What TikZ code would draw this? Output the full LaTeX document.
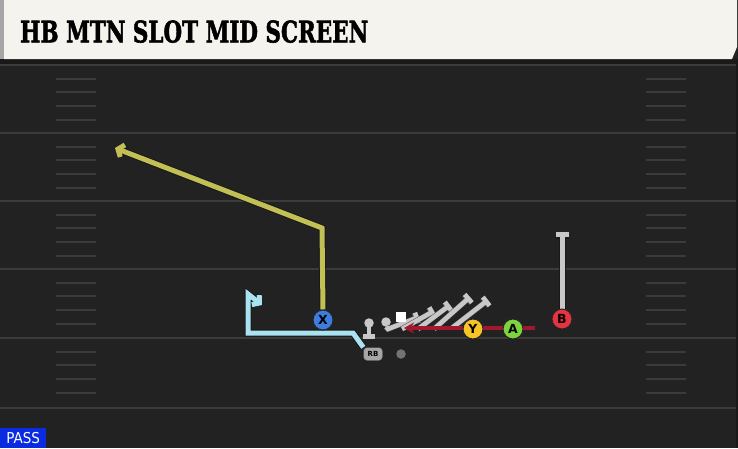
\documentclass[tikz,border=0pt]{standalone}
\usepackage{fontspec}
\setsansfont{DejaVu Sans}
\newfontfamily\titlefont{DejaVu Serif}[BoldFeatures={FakeBold=2}]
\newfontfamily\passfont{DejaVu Sans Condensed}
\usetikzlibrary{arrows.meta}

\definecolor{field}{HTML}{222222}
\definecolor{fieldline}{HTML}{3B3B3B}
\definecolor{cream}{HTML}{F5F3ED}
\definecolor{xroute}{HTML}{C2C055}
\definecolor{rbroute}{HTML}{A9E3F2}
\definecolor{blockgray}{HTML}{C8C8C8}
\definecolor{motion}{HTML}{A3182F}
\definecolor{xblue}{HTML}{3C7DDE}
\definecolor{yyellow}{HTML}{F7C325}
\definecolor{agreen}{HTML}{7DD33E}
\definecolor{bred}{HTML}{E5333F}
\definecolor{passblue}{HTML}{0A2BE0}

\tikzset{
  yardline/.style={draw=fieldline, line width=2.2pt},
  hash/.style={draw=fieldline, line width=2pt},
  route/.style={line width=5pt, preaction={draw=black!90, line width=7pt}},
  block/.style={draw=blockgray, line width=4.6pt, -{Bar[width=11pt]},
    preaction={draw=black!70, line width=5.6pt}},
  player/.style={circle, draw=black!85, line width=1pt, minimum size=20pt, inner sep=0pt,
    font=\sffamily\bfseries\fontsize{12.5}{12.5}\selectfont},
  lineman/.style={circle, fill=blockgray, minimum size=9.5pt, inner sep=0pt},
}

\begin{document}
\begin{tikzpicture}[x=1pt,y=-1pt]
  \useasboundingbox (0,0) rectangle (738,448);
  \fill[field] (0,0) rectangle (738,448);
  % header
  \fill[black!90] (0,59) rectangle (738,64);
  \fill[black!35] (0,0) rectangle (4,59);
  \fill[cream] (4,0) -- (737,0) -- (737,47) -- (732,59) -- (4,59) -- cycle;
  \node[anchor=south west, inner sep=0pt] (title) at (20,43)
    {\resizebox{348pt}{22pt}{\titlefont\bfseries HB MTN SLOT MID SCREEN}};
  % yard lines and hash marks
  \foreach \y in {65,133,201,269,338,408}
    \draw[yardline] (0,\y) -- (738,\y);
  \foreach \y in {65,133,201,269,338}
    \foreach \k in {1,2,3,4} {
      \draw[hash] (56,\y+13.7*\k) -- (96,\y+13.7*\k);
      \draw[hash] (646,\y+13.7*\k) -- (686,\y+13.7*\k);
    }
  \fill[black!90] (736,64) rectangle (738,448);

  % players
  \node[player, fill=xblue] (X) at (323,320) {X};
  \node[player, fill=yyellow] (Y) at (473,329) {Y};
  \node[player, fill=agreen] (A) at (513,329) {A};
  \node[player, fill=bred] (B) at (562,319) {B};
  \node[rounded corners=3.5pt, fill=black!35, draw=black!75, minimum width=19pt, minimum height=13pt,
    inner sep=0pt, font=\sffamily\bfseries\fontsize{7}{7}\selectfont] (RB) at (373,354) {RB};
  \node[circle, fill=black!55, minimum size=9.5pt, inner sep=0pt] (QB) at (401,354) {};
  \node[lineman] (LT) at (369,323) {};
  \node[lineman] (LG) at (386,322) {};
  \coordinate (C) at (401,317);

  % routes
  \coordinate (xbreak) at (322,228);
  \coordinate (xend) at (115,148);
  \coordinate (rbcut) at (353,333);
  \coordinate (rbcorner) at (248,333);
  \coordinate (rbtop) at (248,294);
  \coordinate (rbend) at (262,305);
  \coordinate (bend) at (562,232);
  \coordinate (motstart) at (535,328);
  \coordinate (motend) at (404,328);

  \draw[route, draw=rbroute, -{Straight Barb[length=5pt,width=12pt]}]
    (RB.north west) -- (rbcut) -- (rbcorner) -- (rbtop) -- (rbend);
  \draw[route, draw=xroute, -{Straight Barb[length=5pt,width=13pt]}]
    (X.north) -- (xbreak) -- (xend);
  \draw[route, draw=blockgray, -{Bar[width=13pt]}] (B.north) -- (bend);

  % line blocks
  \draw[draw=blockgray, line width=4.5pt] (369,327) -- (369,335);
  \draw[draw=blockgray, line width=5pt] (363,336) -- (375,336);
  \draw[block] (LG.south) -- (388,329) -- (419,317);
  \draw[block] (402,329) -- (434,311);
  \draw[block] (418,329) -- (450,305);
  \draw[block] (434,329) -- (470,297);
  \draw[block] (452,328) -- (488,300);
  \node[fill=white, minimum size=9.5pt, inner sep=0pt] at (C) {};

  % motion
  \draw[draw=motion, line width=4.6pt, -{Stealth[length=10pt,width=11pt]}] (motstart) -- (motend);
  \node[player, fill=yyellow] at (Y) {Y};
  \node[player, fill=agreen] at (A) {A};
  \node[player, fill=xblue] at (X) {X};
  \node[player, fill=bred] at (B) {B};

  % play type
  \node[fill=passblue, text=white, anchor=south west, minimum width=46pt, minimum height=20pt,
    inner sep=0pt, font=\passfont\fontsize{15}{15}\selectfont] (pass) at (0,448) {PASS};
\end{tikzpicture}
\end{document}
